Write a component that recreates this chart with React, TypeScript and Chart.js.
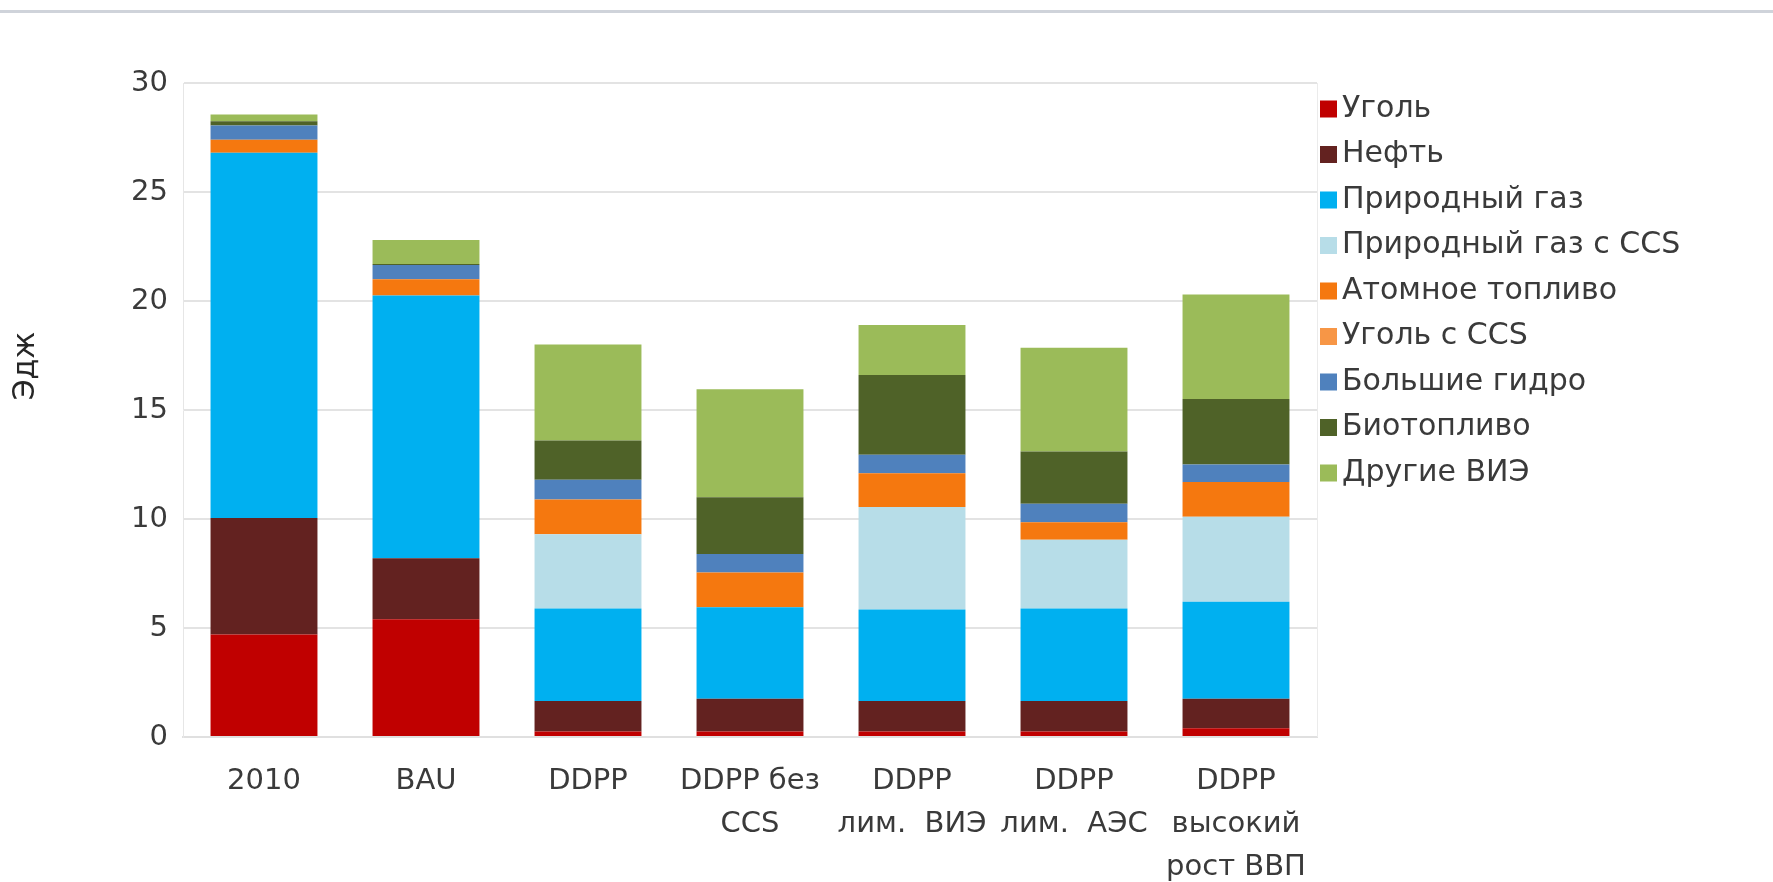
import React, { useEffect, useRef } from "react";
import { Chart, registerables } from "chart.js";

Chart.register(...registerables);

const categories: (string | string[])[] = [
  "2010",
  "BAU",
  "DDPP",
  ["DDPP без", "CCS"],
  ["DDPP", "лим.  ВИЭ"],
  ["DDPP", "лим.  АЭС"],
  ["DDPP", "высокий", "рост ВВП"],
];

const coal = [4.7, 5.4, 0.25, 0.25, 0.25, 0.25, 0.4];
const oil = [5.35, 2.8, 1.4, 1.5, 1.4, 1.4, 1.35];
const gas = [16.75, 12.05, 4.25, 4.2, 4.2, 4.25, 4.45];
const gasCCS = [0, 0, 3.4, 0, 4.7, 3.15, 3.9];
const nuclear = [0.6, 0.75, 1.6, 1.6, 1.55, 0.8, 1.6];
const coalCCS = [0, 0, 0, 0, 0, 0, 0];
const hydro = [0.65, 0.65, 0.9, 0.85, 0.85, 0.85, 0.8];
const bio = [0.2, 0.05, 1.8, 2.6, 3.65, 2.4, 3.0];
const otherRE = [0.3, 1.1, 4.4, 4.95, 2.3, 4.75, 4.8];

const seriesNames = [
  "Уголь",
  "Нефть",
  "Природный газ",
  "Природный газ с CCS",
  "Атомное топливо",
  "Уголь с CCS",
  "Большие гидро",
  "Биотопливо",
  "Другие ВИЭ",
];
const seriesColors = [
  "#C00000",
  "#632220",
  "#00B0F0",
  "#B7DDE8",
  "#F5780F",
  "#F79646",
  "#4F81BD",
  "#4F6228",
  "#9BBB59",
];
const seriesValues = [coal, oil, gas, gasCCS, nuclear, coalCCS, hydro, bio, otherRE];

const yTickMax = 30;
const yTickStep = 5;
const yTitle = "Эдж";

const FONT = '"DejaVu Sans", "Open Sans", sans-serif';
const TEXT = "#3a3a3a";

const customPlugin = {
  id: "customDecor",
  beforeDraw(chart: any) {
    const ctx = chart.ctx;
    ctx.save();
    ctx.fillStyle = "#ffffff";
    ctx.fillRect(0, 0, chart.width, chart.height);
    ctx.fillStyle = "#cfd3da";
    ctx.fillRect(0, 10, chart.width, 3);
    ctx.restore();
  },
  afterDraw(chart: any) {
    const ctx = chart.ctx;
    const area = chart.chartArea;
    ctx.save();
    ctx.strokeStyle = "#ebebeb";
    ctx.lineWidth = 1;
    ctx.beginPath();
    ctx.moveTo(area.right + 0.5, area.top);
    ctx.lineTo(area.right + 0.5, area.bottom);
    ctx.stroke();

    const lx = area.right + 3;
    const ly0 = area.top + 26;
    const step = 45.5;
    ctx.font = `30px ${FONT}`;
    ctx.textBaseline = "middle";
    ctx.textAlign = "left";
    chart.data.datasets.forEach((ds: any, i: number) => {
      const y = ly0 + i * step;
      ctx.fillStyle = ds.backgroundColor;
      ctx.fillRect(lx, y - 8.5, 17, 17);
      ctx.fillStyle = TEXT;
      ctx.fillText(ds.label, lx + 22, y);
    });

    ctx.save();
    ctx.translate(26, 366);
    ctx.rotate(-Math.PI / 2);
    ctx.textAlign = "center";
    ctx.textBaseline = "middle";
    ctx.fillStyle = "#262626";
    ctx.font = `30px ${FONT}`;
    ctx.fillText(yTitle, 0, 0);
    ctx.restore();
    ctx.restore();
  },
};

export default function App() {
  const ref = useRef<HTMLCanvasElement | null>(null);
  useEffect(() => {
    if (!ref.current) return;
    const chart = new Chart(ref.current, {
      type: "bar",
      data: {
        labels: categories,
        datasets: seriesNames.map((name, i) => ({
          label: name,
          data: seriesValues[i],
          backgroundColor: seriesColors[i],
          borderWidth: 0,
          barPercentage: 0.66,
          categoryPercentage: 1,
          stack: "s",
        })),
      },
      options: {
        animation: false,
        responsive: true,
        maintainAspectRatio: false,
        layout: { padding: { top: 83, right: 456, left: 0, bottom: 0 } },
        plugins: {
          legend: { display: false },
          tooltip: { enabled: false },
        },
        scales: {
          x: {
            stacked: true,
            grid: { display: false, drawTicks: false },
            border: { display: true, color: "#e0e0e0", width: 2 },
            ticks: {
              font: { family: FONT, size: 29, lineHeight: 1.48 },
              color: TEXT,
              padding: 23,
              maxRotation: 0,
              autoSkip: false,
            },
            afterFit: (s: any) => {
              s.height = 145;
            },
          },
          y: {
            stacked: true,
            min: 0,
            max: yTickMax,
            grid: { color: "#e3e3e3", lineWidth: 2, drawTicks: false },
            border: { display: true, color: "#e6e6e6", width: 1 },
            ticks: {
              stepSize: yTickStep,
              font: { family: FONT, size: 29 },
              color: TEXT,
              padding: 15,
            },
            afterFit: (s: any) => {
              s.width = 183;
            },
          },
        },
      },
      plugins: [customPlugin],
    });
    return () => chart.destroy();
  }, []);
  return (
    <div
      style={{
        position: "fixed",
        left: 0,
        top: 0,
        width: 1773,
        height: 882,
        background: "#fff",
      }}
    >
      <canvas ref={ref} />
    </div>
  );
}
